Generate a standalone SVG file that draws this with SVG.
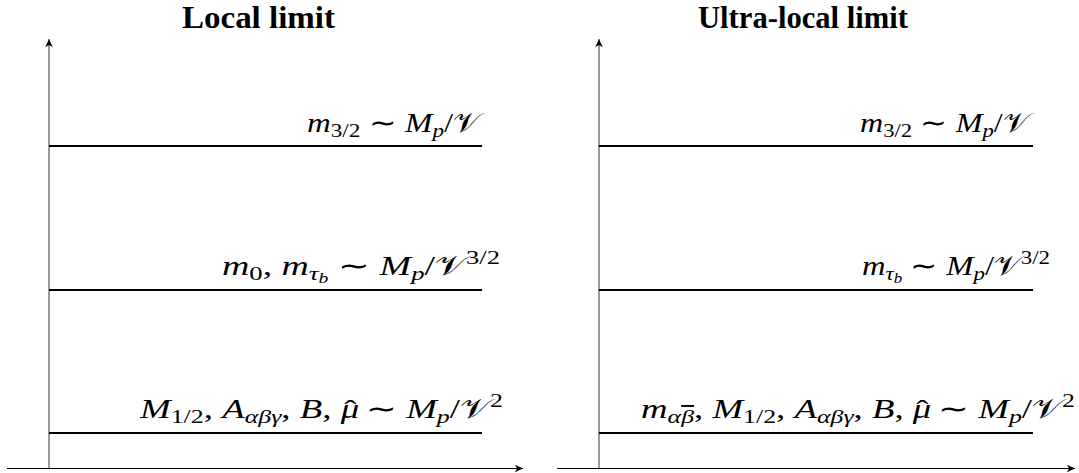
<svg xmlns="http://www.w3.org/2000/svg" width="1079" height="473" viewBox="0 0 1079 473">
<style>
.title{font-family:"Liberation Serif",serif;font-weight:bold;font-size:31px;fill:#000;text-anchor:middle}
.math{font-family:"Liberation Serif",serif;font-size:27px;fill:#000}
.i{font-style:italic}
.s{font-size:19px}
.cal{font-family:"DejaVu Serif","DejaVu Sans","Noto Sans",serif;font-style:normal;font-weight:normal}
.axis{stroke:#000;stroke-width:1;fill:none}
.vaxis{stroke:#555;stroke-width:1.2;fill:none}
.level{stroke:#000;stroke-width:1.8;fill:none}
</style>
<defs>
<marker id="arr" markerWidth="10" markerHeight="10" refX="9" refY="5" orient="auto" markerUnits="userSpaceOnUse">
<path d="M9,5 L1,1.3 L3,5 L1,8.7 Z" fill="#000"/>
</marker>
</defs>
<g id="connectors">
<line class="vaxis" x1="49" y1="469" x2="49" y2="39" marker-end="url(#arr)"/>
<line class="axis" x1="7" y1="468.5" x2="523" y2="468.5" marker-end="url(#arr)"/>
<line class="vaxis" x1="599" y1="469" x2="599" y2="39" marker-end="url(#arr)"/>
<line class="axis" x1="557" y1="468.5" x2="1075" y2="468.5" marker-end="url(#arr)"/>
</g>
<g id="local-title"><text class="title" x="258.5" y="28" textLength="153" lengthAdjust="spacingAndGlyphs">Local limit</text></g>
<g id="ultralocal-title"><text class="title" x="803" y="28" textLength="210" lengthAdjust="spacingAndGlyphs">Ultra-local limit</text></g>
<g id="local-level-1">
<line class="level" x1="49" y1="146" x2="482" y2="146"/>
<text class="math" x="307" y="132" textLength="173" lengthAdjust="spacingAndGlyphs"><tspan class="i">m</tspan><tspan class="s" dy="5">3/2</tspan><tspan dy="-5"> ∼ </tspan><tspan class="i">M</tspan><tspan class="i s" dy="5">p</tspan><tspan dy="-5">/</tspan><tspan class="cal">𝒱</tspan></text>
</g>
<g id="local-level-2">
<line class="level" x1="49" y1="290" x2="482" y2="290"/>
<text class="math" x="222" y="275" textLength="278" lengthAdjust="spacingAndGlyphs"><tspan class="i">m</tspan><tspan class="s" dy="5">0</tspan><tspan dy="-5">, </tspan><tspan class="i">m</tspan><tspan class="i s" dy="5">τ</tspan><tspan class="i" font-size="14" dy="3">b</tspan><tspan dy="-8"> ∼ </tspan><tspan class="i">M</tspan><tspan class="i s" dy="5">p</tspan><tspan dy="-5">/</tspan><tspan class="cal">𝒱</tspan><tspan class="s" dy="-11">3/2</tspan></text>
</g>
<g id="local-level-3">
<line class="level" x1="49" y1="433" x2="482" y2="433"/>
<text class="math" x="140" y="418" textLength="363" lengthAdjust="spacingAndGlyphs"><tspan class="i">M</tspan><tspan class="s" dy="5">1/2</tspan><tspan dy="-5">, </tspan><tspan class="i">A</tspan><tspan class="i s" dy="5">αβγ</tspan><tspan dy="-5">, </tspan><tspan class="i">B</tspan><tspan>, </tspan><tspan class="i">μ</tspan><tspan dx="-11" dy="1">ˆ</tspan><tspan dy="-1"> ∼ </tspan><tspan class="i">M</tspan><tspan class="i s" dy="5">p</tspan><tspan dy="-5">/</tspan><tspan class="cal">𝒱</tspan><tspan class="s" dy="-11">2</tspan></text>
</g>
<g id="ultralocal-level-1">
<line class="level" x1="599" y1="146" x2="1033" y2="146"/>
<text class="math" x="860" y="132" textLength="169" lengthAdjust="spacingAndGlyphs"><tspan class="i">m</tspan><tspan class="s" dy="5">3/2</tspan><tspan dy="-5"> ∼ </tspan><tspan class="i">M</tspan><tspan class="i s" dy="5">p</tspan><tspan dy="-5">/</tspan><tspan class="cal">𝒱</tspan></text>
</g>
<g id="ultralocal-level-2">
<line class="level" x1="599" y1="290" x2="1033" y2="290"/>
<text class="math" x="862" y="275" textLength="188" lengthAdjust="spacingAndGlyphs"><tspan class="i">m</tspan><tspan class="i s" dy="5">τ</tspan><tspan class="i" font-size="14" dy="3">b</tspan><tspan dy="-8"> ∼ </tspan><tspan class="i">M</tspan><tspan class="i s" dy="5">p</tspan><tspan dy="-5">/</tspan><tspan class="cal">𝒱</tspan><tspan class="s" dy="-11">3/2</tspan></text>
</g>
<g id="ultralocal-level-3">
<line class="level" x1="599" y1="433" x2="1033" y2="433"/>
<text class="math" x="641" y="418" textLength="434" lengthAdjust="spacingAndGlyphs"><tspan class="i">m</tspan><tspan class="i s" dy="5">α</tspan><tspan class="i s" text-decoration="overline">β</tspan><tspan dy="-5">, </tspan><tspan class="i">M</tspan><tspan class="s" dy="5">1/2</tspan><tspan dy="-5">, </tspan><tspan class="i">A</tspan><tspan class="i s" dy="5">αβγ</tspan><tspan dy="-5">, </tspan><tspan class="i">B</tspan><tspan>, </tspan><tspan class="i">μ</tspan><tspan dx="-11" dy="1">ˆ</tspan><tspan dy="-1"> ∼ </tspan><tspan class="i">M</tspan><tspan class="i s" dy="5">p</tspan><tspan dy="-5">/</tspan><tspan class="cal">𝒱</tspan><tspan class="s" dy="-11">2</tspan></text>
</g>
</svg>
